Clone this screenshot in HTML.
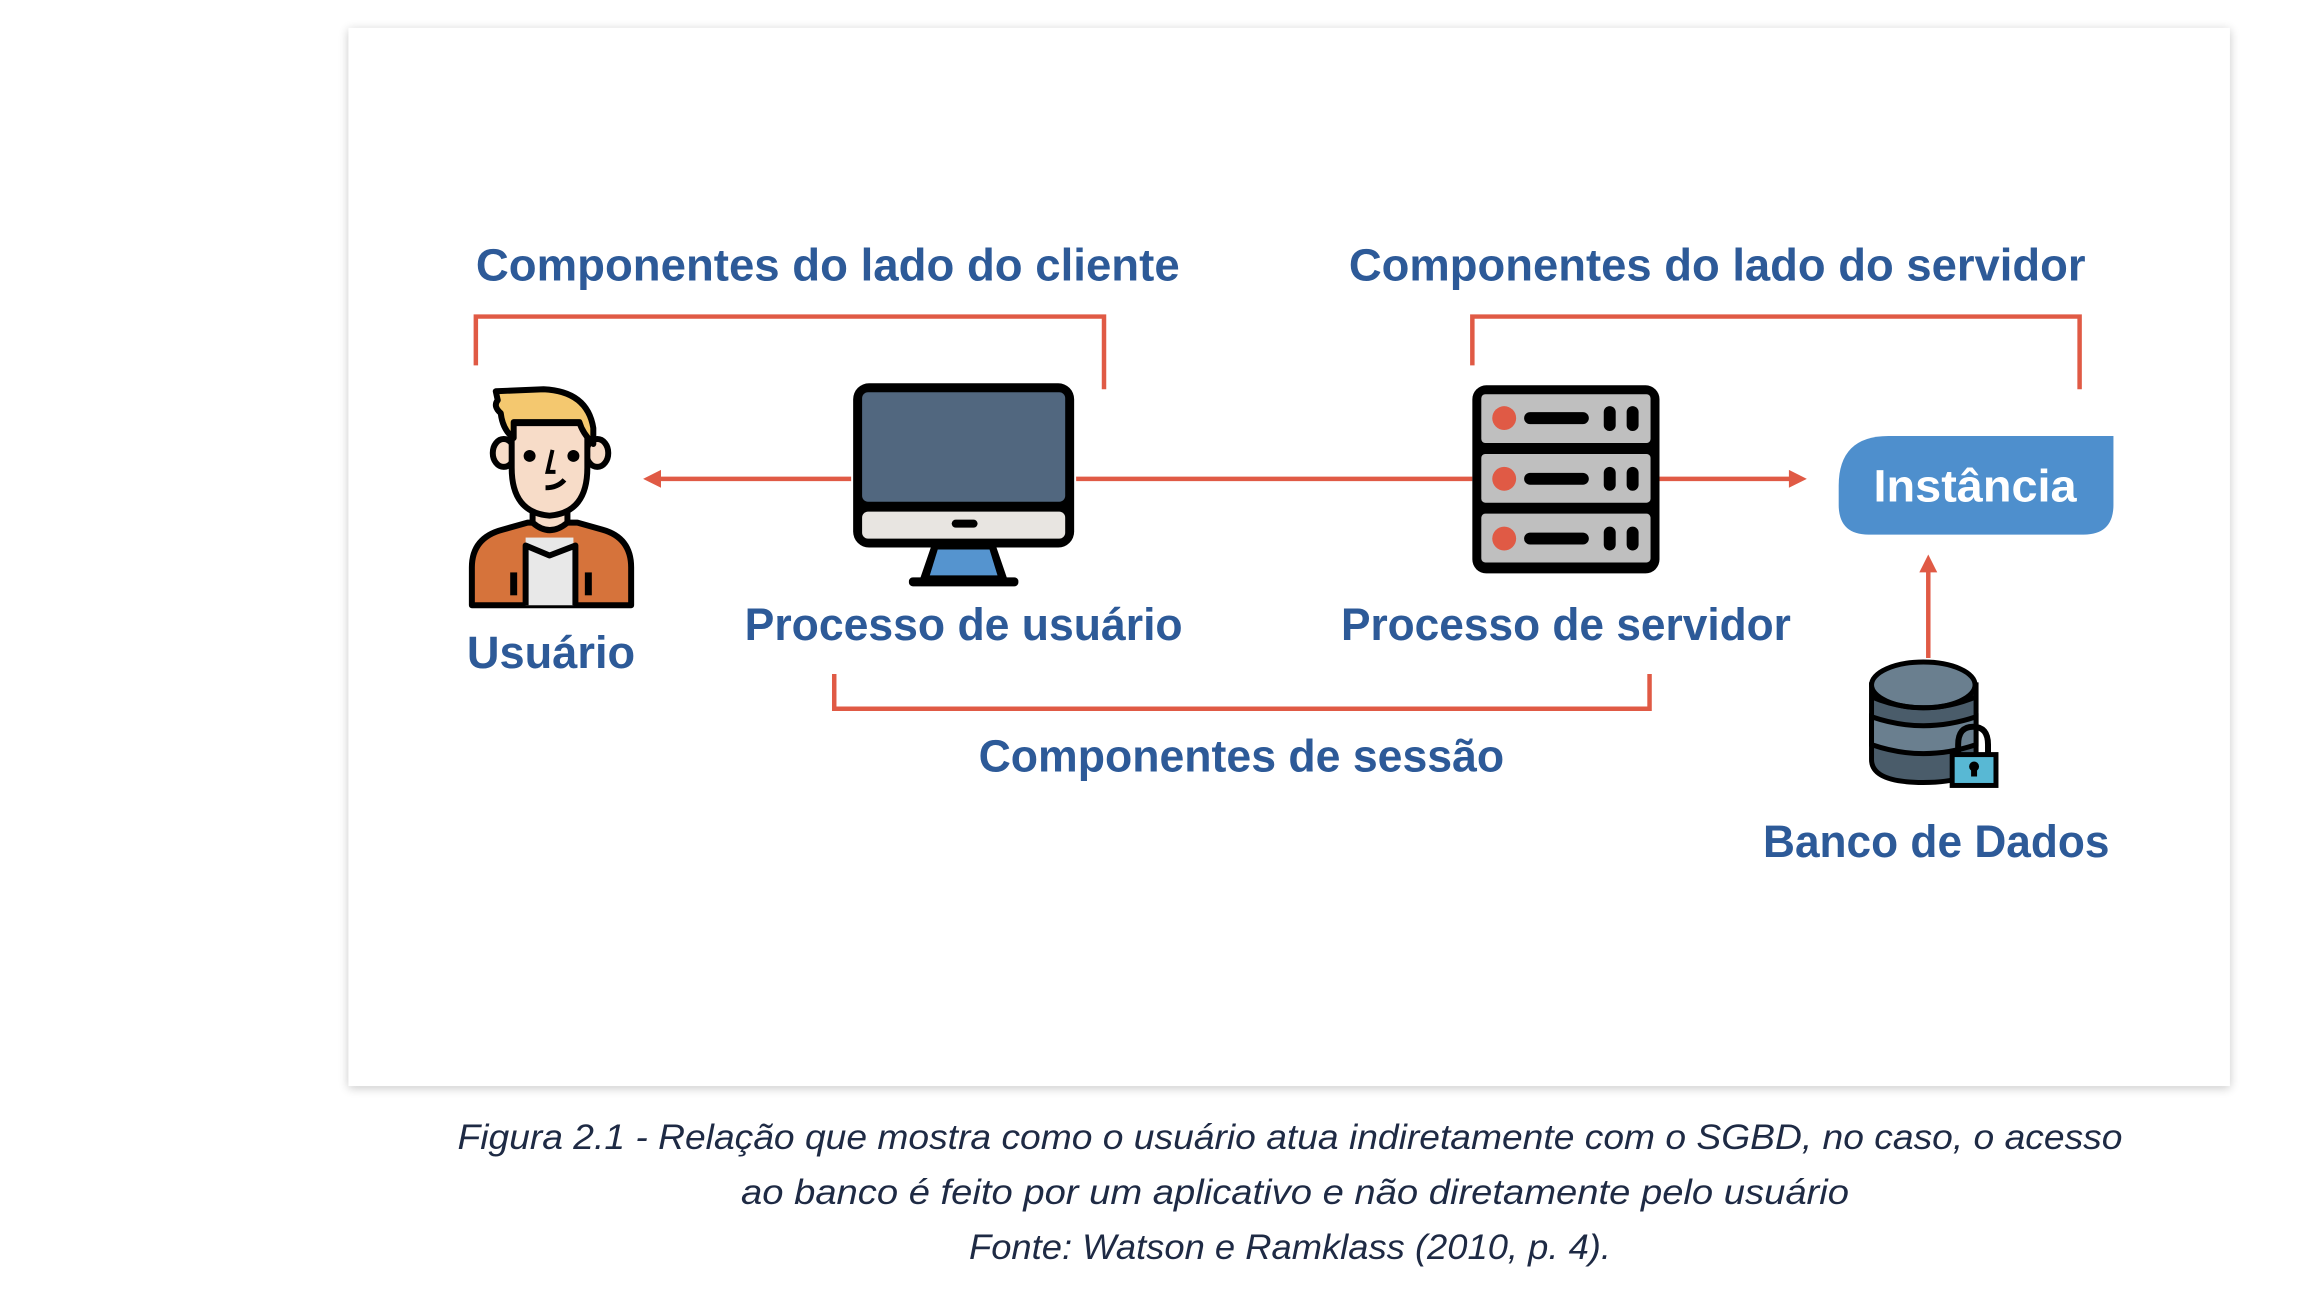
<!DOCTYPE html>
<html><head><meta charset="utf-8"><style>
html,body{margin:0;padding:0;background:#fff;width:2316px;height:1312px;overflow:hidden}
svg{display:block}
</style></head><body>
<svg width="2316" height="1312" viewBox="0 0 2316 1312" xmlns="http://www.w3.org/2000/svg">
<defs>
<filter id="sh" x="-5%" y="-5%" width="110%" height="110%"><feGaussianBlur stdDeviation="5"/></filter>
</defs>
<g transform="scale(0.9955)">
<rect x="350" y="30" width="1890" height="1063" fill="#000" opacity="0.22" filter="url(#sh)"/>
<rect x="350" y="28" width="1890" height="1063" fill="#fff"/>

<g font-family="Liberation Sans, sans-serif" font-weight="bold" fill="#2d5a98" font-size="46">
<text x="478" y="282" textLength="707" lengthAdjust="spacingAndGlyphs">Componentes do lado do cliente</text>
<text x="1355" y="282" textLength="740" lengthAdjust="spacingAndGlyphs">Componentes do lado do servidor</text>
<text x="469" y="671" textLength="169" lengthAdjust="spacingAndGlyphs">Usuário</text>
<text x="748" y="643" textLength="440" lengthAdjust="spacingAndGlyphs">Processo de usuário</text>
<text x="1347" y="643" textLength="452" lengthAdjust="spacingAndGlyphs">Processo de servidor</text>
<text x="983" y="775" textLength="528" lengthAdjust="spacingAndGlyphs">Componentes de sessão</text>
<text x="1771" y="861" textLength="348" lengthAdjust="spacingAndGlyphs">Banco de Dados</text>
</g>

<g stroke="#e05a45" stroke-width="4.5" fill="none">
<polyline points="478,367 478,318 1109,318 1109,391"/>
<polyline points="1479,367 1479,318 2089,318 2089,391"/>
<polyline points="838,677 838,712 1657,712 1657,677"/>
<line x1="660" y1="481" x2="855" y2="481"/>
<line x1="1081" y1="481" x2="1479" y2="481"/>
<line x1="1667" y1="481" x2="1800" y2="481"/>
<line x1="1937" y1="661" x2="1937" y2="572"/>
</g>
<g fill="#e05a45">
<polygon points="646,481 664,472 664,490"/>
<polygon points="1815,481 1797,472 1797,490"/>
<polygon points="1937,557 1928,575 1946,575"/>
</g>

<path d="M1847,488 Q1847,438 1897,438 L2123,438 L2123,507 Q2123,537 2093,537 L1877,537 Q1847,537 1847,507 Z" fill="#4e8fcd"/>
<text x="1984" y="504" text-anchor="middle" font-family="Liberation Sans, sans-serif" font-weight="bold" font-size="46" fill="#fff" textLength="204" lengthAdjust="spacingAndGlyphs">Instância</text>

<g stroke="#000" stroke-width="6" stroke-linejoin="round">
<path d="M474,608 L474,570 Q474,540 505,532 L530,525 L580,525 L605,532 Q634,540 634,570 L634,608 Z" fill="#d6733b"/>
<rect x="528" y="540" width="48" height="68" fill="#e8e8e8" stroke="none"/>
<path d="M528,608 L528,548 L552,558 L578,548 L578,608" fill="none"/>
<path d="M535,500 L535,525 Q552,540 570,525 L570,500 Z" fill="#f7dcc8"/>
<ellipse cx="506" cy="455" rx="11" ry="14" fill="#f7dcc8"/>
<ellipse cx="600" cy="455" rx="11" ry="14" fill="#f7dcc8"/>
<path d="M514,425 L514,470 Q514,515 552,518 Q590,515 590,470 L590,425 Z" fill="#f7dcc8"/>
<path d="M498,393 L546,391 Q590,393 596,430 L596,446 Q585,435 582,424 L516,424 L516,440 Q505,432 503,415 Q495,408 500,402 Z" fill="#f4c86f"/>
<line x1="516" y1="575" x2="516" y2="598" stroke-width="7"/>
<line x1="591" y1="575" x2="591" y2="598" stroke-width="7"/>
</g>
<circle cx="532" cy="458" r="6"/><circle cx="576" cy="458" r="6"/>
<path d="M555,452 L550,474 L558,474" stroke="#000" stroke-width="4" fill="none"/>
<path d="M548,490 Q560,490 567,482" stroke="#000" stroke-width="5" fill="none"/>

<rect x="857" y="385" width="222" height="165" rx="16" fill="#000"/>
<rect x="866" y="394" width="204" height="110" rx="6" fill="#51677f"/>
<rect x="866" y="514" width="204" height="27" rx="6" fill="#e8e5e1"/>
<rect x="956" y="522" width="26" height="8" rx="4" fill="#000"/>
<polygon points="935,550 1001,550 1012,582 924,582" fill="#000"/>
<polygon points="942,552 994,552 1002,578 934,578" fill="#5594cf"/>
<rect x="913" y="580" width="110" height="9" rx="4" fill="#000"/>

<g>
<rect x="1479" y="387" width="188" height="189" rx="14" fill="#000"/>
<rect x="1488" y="396" width="170" height="49" rx="4" fill="#bfbfbf"/>
<rect x="1488" y="456" width="170" height="49" rx="4" fill="#bfbfbf"/>
<rect x="1488" y="516" width="170" height="49" rx="4" fill="#bfbfbf"/>
<g fill="#e05a45"><circle cx="1511" cy="420" r="12"/><circle cx="1511" cy="481" r="12"/><circle cx="1511" cy="541" r="12"/></g>
<g stroke="#000" stroke-width="12" stroke-linecap="round">
<line x1="1537" y1="420" x2="1590" y2="420"/><line x1="1537" y1="481" x2="1590" y2="481"/><line x1="1537" y1="541" x2="1590" y2="541"/>
<line x1="1617" y1="414" x2="1617" y2="427"/><line x1="1640" y1="414" x2="1640" y2="427"/>
<line x1="1617" y1="475" x2="1617" y2="487"/><line x1="1640" y1="475" x2="1640" y2="487"/>
<line x1="1617" y1="535" x2="1617" y2="547"/><line x1="1640" y1="535" x2="1640" y2="547"/>
</g>
</g>

<g stroke="#000" stroke-width="5">
<path d="M1880,688 L1880,763 Q1880,786 1932,786 Q1985,786 1985,763 L1985,688 Z" fill="#4a5c6a"/>
<path d="M1880,720 Q1932,738 1985,720 L1985,748 Q1932,766 1880,748 Z" fill="#6a7f8f"/>
<ellipse cx="1932" cy="688" rx="52" ry="23" fill="#6a7f8f"/>
<path d="M1880,700 Q1932,722 1985,700" fill="none"/>
<path d="M1967,760 L1967,748 Q1967,730 1982,730 Q1997,730 1997,748 L1997,760" fill="none" stroke-width="6"/>
<rect x="1961" y="758" width="44" height="31" fill="#58b8d4"/>
</g>
<circle cx="1983" cy="770" r="5"/><rect x="1980" y="770" width="6" height="10"/>
</g>

<g font-family="Liberation Sans, sans-serif" font-style="italic" font-size="35" fill="#1e2a44" text-anchor="middle">
<text x="1290" y="1149" textLength="1665" lengthAdjust="spacingAndGlyphs">Figura 2.1 - Relação que mostra como o usuário atua indiretamente com o SGBD, no caso, o acesso</text>
<text x="1295" y="1204" textLength="1108" lengthAdjust="spacingAndGlyphs">ao banco é feito por um aplicativo e não diretamente pelo usuário</text>
<text x="1290" y="1259" textLength="642" lengthAdjust="spacingAndGlyphs">Fonte: Watson e Ramklass (2010, p. 4).</text>
</g>
</svg>
</body></html>
